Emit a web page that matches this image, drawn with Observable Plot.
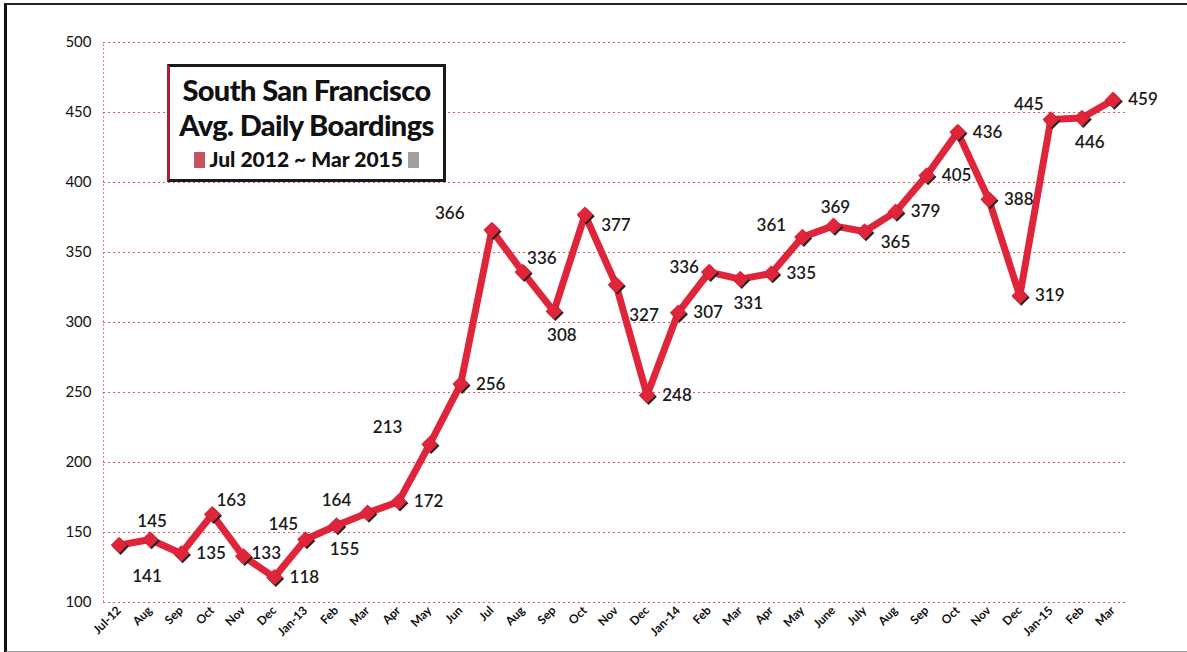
<!DOCTYPE html>
<html>
<head>
<meta charset="utf-8">
<script src="https://cdn.jsdelivr.net/npm/d3@7"></script>
<script src="https://cdn.jsdelivr.net/npm/@observablehq/plot@0.6"></script>
<style>
  html, body { margin: 0; padding: 0; background: #fff; }
  #wrap { position: relative; width: 1187px; height: 652px; overflow: hidden; font-family: Lato, "Open Sans", sans-serif; }
  #frame { position: absolute; left: 4px; top: 3px; width: 1190px; height: 646px; border-left: 3px solid #111; border-top: 2px solid #222; border-bottom: 2px solid #999; }
  #chart { position: absolute; left: 0; top: 0; }
  #titlebox { position: absolute; left: 167px; top: 64px; width: 273px; height: 112px; background: #fff;
    border: 3px solid #1a1a1a; border-left-color: #b01e30; text-align: center; color: #111; font-weight: 900; }
  #titlebox .l1 { font-size: 29px; line-height: 30px; margin-top: 8px; letter-spacing: -0.6px; white-space: nowrap; }
  #titlebox .l2 { font-size: 29px; line-height: 40px; letter-spacing: -0.6px; white-space: nowrap; }
  #titlebox .l3 { font-size: 21px; line-height: 28px; white-space: nowrap; }
  .sq { display: inline-block; width: 11px; height: 16px; vertical-align: -1px; }
</style>
</head>
<body>
<div id="wrap">
  <div id="frame"></div>
  <div id="chart"></div>
  <div id="titlebox">
    <div class="l1">South San Francisco</div>
    <div class="l2">Avg. Daily Boardings</div>
    <div class="l3"><span class="sq" style="background:#b5263a;opacity:.8"></span> Jul 2012 ~ Mar 2015 <span class="sq" style="background:#777;opacity:.7"></span></div>
  </div>
</div>
<script>
const months = ["Jul-12","Aug","Sep","Oct","Nov","Dec","Jan-13","Feb","Mar","Apr","May","Jun",
  "Jul","Aug","Sep","Oct","Nov","Dec","Jan-14","Feb","Mar","Apr","May","June",
  "July","Aug","Sep","Oct","Nov","Dec","Jan-15","Feb","Mar"];
const boardings = [141,145,135,163,133,118,145,155,164,172,213,256,
  366,336,308,377,327,248,307,336,331,335,361,369,
  365,379,405,436,388,319,445,446,459];
const yTicks = [100,150,200,250,300,350,400,450,500];
// label placement code for each point (R right, A above, B below, UL upper-left, ...)
const labelPlace = ["BR","A","R","UR","RN","R","ULN","B","UL","R","ULF","R",
  "ULF","UR","B","RL","BR","R","R","L","B","R","UL","A",
  "RL","R","R","R","R","R","ULN","B","R"];
const placeOffsets = {
  R: [30, 0], RN: [23, -3], RL: [31, 11], A: [2, -18], B: [8, 24],
  UL: [-31, -12], ULN: [-22, -15], ULF: [-42, -17], UR: [19, -14], BR: [28, 31], L: [-25, -5]
};

const red = "#e0243a";
const data = boardings.map((v, i) => ({i, v, label: String(v), place: labelPlace[i]}));

const textMarks = Object.entries(placeOffsets).map(([code, [dx, dy]]) =>
  Plot.text(data.filter(d => d.place === code), {
    x: "i", y: "v", text: "label", dx, dy,
    fontSize: 17, fill: "#1a1a1a", fontWeight: 600
  })
);

const chart = Plot.plot({
  width: 1187, height: 652,
  marginLeft: 103, marginRight: 59, marginTop: 42, marginBottom: 50,
  style: {fontFamily: "Lato, 'Open Sans', sans-serif", background: "transparent", overflow: "visible"},
  x: {domain: [-0.5, 32.5], axis: null},
  y: {domain: [100, 500], axis: null},
  marks: [
    Plot.ruleY(yTicks, {stroke: "#d22a3c", strokeDasharray: "2,3", strokeWidth: 1, strokeOpacity: 0.8}),
    Plot.ruleX([-0.5], {y1: 100, y2: 500, stroke: "#c8304a", strokeDasharray: "2,2", strokeWidth: 1, strokeOpacity: 0.6}),
    Plot.axisY(yTicks, {tickSize: 0, tickPadding: 12, fontSize: 15, fill: "#111", label: null}),
    Plot.axisX(d3.range(months.length), {
      tickFormat: i => months[i], tickRotate: -45, tickSize: 0, tickPadding: 6,
      fontSize: 12, fontWeight: "bold", fill: "#111", label: null
    }),
    Plot.line(data, {x: "i", y: "v", stroke: red, strokeWidth: 7, strokeLinejoin: "round"}),
    Plot.dot(data, {x: "i", y: "v", symbol: "diamond2", r: 7.5, fill: "#222", dx: 1.5, dy: 1.5}),
    Plot.dot(data, {x: "i", y: "v", symbol: "diamond2", r: 7.5, fill: red}),
    ...textMarks
  ]
});
document.getElementById("chart").append(chart);
</script>
</body>
</html>
